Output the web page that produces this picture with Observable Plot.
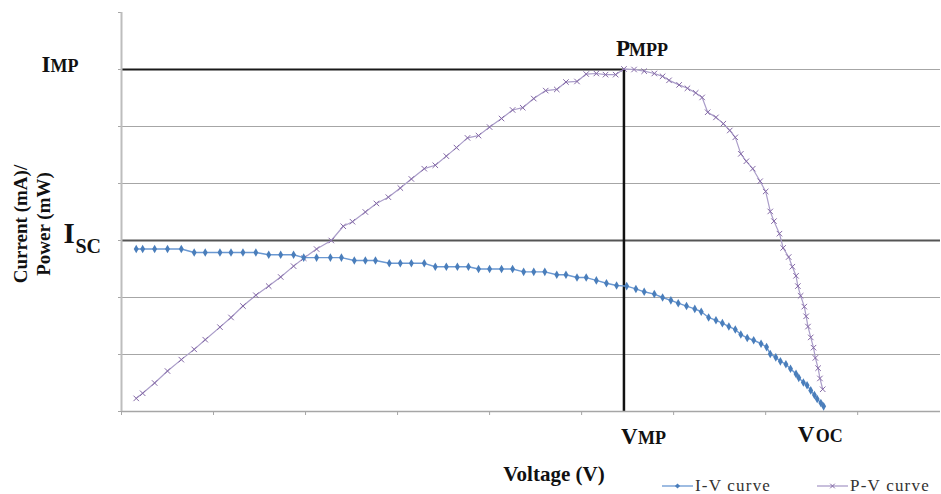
<!DOCTYPE html>
<html><head><meta charset="utf-8">
<script src="https://cdn.jsdelivr.net/npm/d3@7"></script>
<script src="https://cdn.jsdelivr.net/npm/@observablehq/plot@0.6"></script>
<style>body{margin:0;background:#fff}#chart svg{display:block}</style>
</head><body><div id="chart"></div>
<script>
// I-V curve (voltage in x-grid units, current in y-grid units)
const ivVoltage = [0.16,0.23,0.36,0.50,0.65,0.79,0.91,1.07,1.19,1.32,
  1.46,1.60,1.73,1.87,1.98,2.12,2.27,2.39,2.53,2.65,
  2.76,2.91,3.03,3.15,3.29,3.41,3.53,3.65,3.77,3.88,
  4.00,4.13,4.25,4.37,4.48,4.60,4.73,4.83,4.95,5.05,
  5.16,5.27,5.38,5.49,5.59,5.68,5.79,5.88,5.97,6.05,
  6.14,6.23,6.30,6.38,6.46,6.53,6.60,6.67,6.73,6.80,
  6.87,6.95,7.01,7.05,7.11,7.16,7.22,7.27,7.33,7.36,
  7.41,7.45,7.49,7.53,7.56,7.60,7.63];
const ivCurrent = [2.85,2.85,2.85,2.85,2.85,2.79,2.79,2.79,2.79,2.79,
  2.79,2.75,2.75,2.75,2.70,2.70,2.70,2.70,2.65,2.65,
  2.65,2.60,2.60,2.60,2.60,2.54,2.54,2.54,2.54,2.50,
  2.50,2.50,2.50,2.45,2.45,2.45,2.40,2.40,2.35,2.35,
  2.30,2.25,2.21,2.20,2.15,2.10,2.06,2.00,1.95,1.90,
  1.85,1.80,1.75,1.65,1.60,1.55,1.49,1.44,1.35,1.29,
  1.25,1.19,1.13,1.01,0.95,0.88,0.83,0.75,0.66,0.59,
  0.51,0.46,0.37,0.29,0.22,0.15,0.09];
// P-V curve
const pvVoltage = [0.16,0.23,0.36,0.50,0.65,0.79,0.91,1.07,1.19,1.32,
  1.46,1.60,1.73,1.87,1.98,2.12,2.28,2.41,2.51,2.65,
  2.77,2.90,3.03,3.15,3.29,3.41,3.53,3.64,3.76,3.88,
  4.00,4.13,4.25,4.36,4.48,4.61,4.73,4.83,4.95,5.05,
  5.16,5.26,5.37,5.46,5.57,5.68,5.79,5.88,5.95,6.06,
  6.15,6.24,6.31,6.37,6.46,6.54,6.61,6.67,6.73,6.79,
  6.86,6.94,7.00,7.05,7.09,7.15,7.19,7.25,7.29,7.33,
  7.35,7.38,7.42,7.44,7.46,7.49,7.52,7.54,7.57,7.59,7.62];
const pvPower = [0.23,0.32,0.50,0.71,0.91,1.09,1.26,1.48,1.65,1.85,
  2.04,2.20,2.36,2.55,2.69,2.85,3.00,3.25,3.33,3.50,
  3.65,3.76,3.92,4.08,4.26,4.32,4.48,4.63,4.80,4.84,
  4.99,5.14,5.29,5.33,5.49,5.63,5.65,5.78,5.79,5.92,
  5.93,5.91,5.91,6.01,6.00,5.97,5.93,5.88,5.81,5.73,
  5.67,5.59,5.51,5.25,5.16,5.05,4.93,4.81,4.52,4.39,
  4.26,4.04,3.86,3.51,3.34,3.12,2.87,2.71,2.54,2.38,
  2.20,2.03,1.84,1.67,1.49,1.30,1.12,0.94,0.76,0.58,0.39];
const gridLevels = [1,2,3,4,5,6];
const xTicks = [0,1,2,3,4,5,6,7,8];
const yTicks = [0,1,2,3,4,5,6,7];
const vmp = 5.46, imp = 6, isc = 3, voc = 7.63;
const seriesNames = ["I-V curve", "P-V curve"];
const yLabel = "Current (mA)/\nPower (mW)";
const xLabel = "Voltage (V)";

const iv = ivVoltage.map((v, i) => ({v, y: ivCurrent[i]}));
const pv = pvVoltage.map((v, i) => ({v, y: pvPower[i]}));
const serif = "'Liberation Serif','Times New Roman',serif";
const ivColor = "#4a7ebb", ivLine = "#6a98d2";
const pvColor = "#8469a6", pvLine = "#aa9dc9";

function lab(t, x, y, dx, dy, size) {
  return Plot.text([t], {x: () => x, y: () => y, text: d => d, dx, dy, fontSize: size,
    fontWeight: "bold", textAnchor: "start", lineAnchor: "bottom", fill: "#111", fontFamily: serif});
}

const chart = Plot.plot({
  width: 941, height: 494,
  marginLeft: 121, marginRight: 1, marginTop: 12, marginBottom: 83,
  x: {domain: [0, 8.9], axis: "bottom", ticks: xTicks, tickSize: 4, tickFormat: () => "", label: null},
  y: {domain: [0, 7], axis: "left", ticks: yTicks, tickSize: 3, tickFormat: () => "", label: null},
  style: {fontFamily: serif, background: "#fff", color: "#a6a6a6", overflow: "visible"},
  marks: [
    Plot.ruleY(gridLevels, {stroke: "#a6a6a6", strokeWidth: 1}),
    Plot.ruleY([isc], {stroke: "#555", strokeWidth: 2}),
    Plot.ruleY([imp], {x1: 0, x2: vmp, stroke: "#1a1a1a", strokeWidth: 2}),
    Plot.ruleX([vmp], {y1: 0, y2: imp, stroke: "#111", strokeWidth: 2.5}),
    Plot.ruleY([0], {stroke: "#a6a6a6", strokeWidth: 1.5}),
    Plot.ruleX([0], {stroke: "#bdbdbd", strokeWidth: 2}),
    Plot.line(pv, {x: "v", y: "y", stroke: pvLine, strokeWidth: 1.2}),
    Plot.dot(pv, {x: "v", y: "y", symbol: "times", r: 2.6, stroke: pvColor, strokeWidth: 1}),
    Plot.line(iv, {x: "v", y: "y", stroke: ivLine, strokeWidth: 1.4}),
    Plot.dot(iv, {x: "v", y: "y", symbol: "diamond", r: 2.6, fill: ivColor, stroke: "none"}),
    lab("I", 0, imp, -80, 2, 23), lab("MP", 0, imp, -71, 2, 18),
    lab("I", 0, isc, -58, 2, 29), lab("SC", 0, isc, -46, 12, 20),
    lab("P", vmp, imp, -8, -14, 23), lab("MPP", vmp, imp, 5, -14, 18),
    lab("V", vmp, 0, -3, 32, 23), lab("MP", vmp, 0, 14, 32, 18),
    lab("V", voc, 0, -26, 30, 23), lab("OC", voc, 0, -8, 30, 18),
    Plot.text([yLabel], {frameAnchor: "left", text: d => d, rotate: -90, dx: -90, dy: 12,
      fontSize: 19, fontWeight: "bold", lineHeight: 1.18, lineAnchor: "middle", textAnchor: "middle", fill: "#111"}),
    Plot.text([xLabel], {frameAnchor: "bottom", text: d => d, dx: 23, dy: 69,
      fontSize: 21, fontWeight: "bold", lineAnchor: "bottom", textAnchor: "middle", fill: "#111"})
  ]
});
document.getElementById("chart").append(chart);

// legend
const svg = d3.select(chart);
const lg = svg.append("g").attr("font-family", serif).attr("font-size", 17)
  .attr("fill", "#333").attr("text-anchor", "start").attr("letter-spacing", 1.2);
const items = [
  {name: seriesNames[0], x: 662, color: ivColor, line: ivLine, sym: "diamond"},
  {name: seriesNames[1], x: 817, color: pvColor, line: pvLine, sym: "times"}
];
items.forEach(it => {
  const y = 486;
  lg.append("line").attr("x1", it.x).attr("x2", it.x + 31).attr("y1", y).attr("y2", y)
    .attr("stroke", it.line).attr("stroke-width", 1.3);
  const cx = it.x + 15.5;
  if (it.sym === "diamond") {
    lg.append("path").attr("d", `M${cx},${y-2.6}L${cx+2.6},${y}L${cx},${y+2.6}L${cx-2.6},${y}Z`).attr("fill", it.color);
  } else {
    lg.append("path").attr("d", `M${cx-2.3},${y-2.3}L${cx+2.3},${y+2.3}M${cx-2.3},${y+2.3}L${cx+2.3},${y-2.3}`)
      .attr("stroke", it.color).attr("fill", "none");
  }
  lg.append("text").attr("x", it.x + 33).attr("y", y + 5).attr("text-anchor", "start").text(it.name);
});
</script>
</body></html>
